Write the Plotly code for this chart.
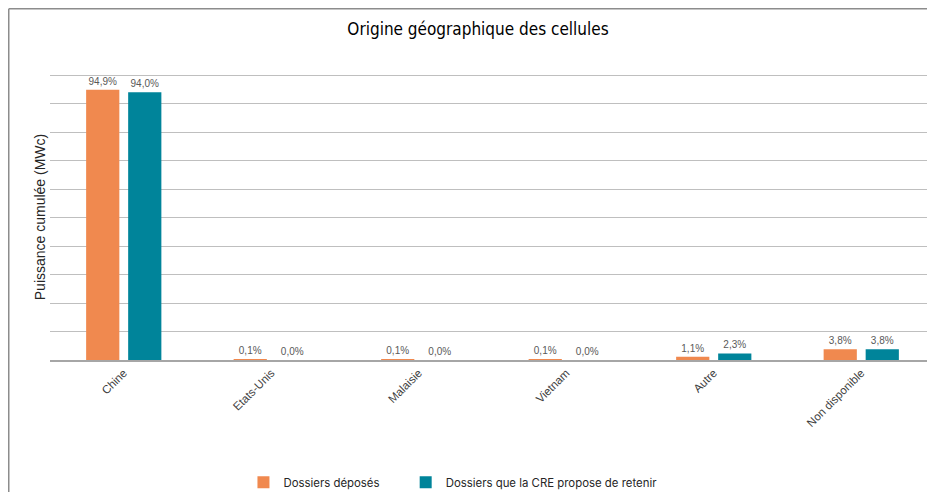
import plotly.graph_objects as go

categories = ["Chine", "Etats-Unis", "Malaisie", "Vietnam", "Autre", "Non disponible"]
deposes = [94.9, 0.1, 0.1, 0.1, 1.1, 3.8]
retenus = [94.0, 0.0, 0.0, 0.0, 2.3, 3.8]

series = [
    ("Dossiers déposés", deposes, "#F0894F", "legend", 0.254),
    ("Dossiers que la CRE propose de retenir", retenus, "#00849A", "legend2", 0.429),
]


def fmt(v):
    return f"{v:.1f}%".replace(".", ",")


fig = go.Figure()
for name, vals, color, leg, _ in series:
    fig.add_trace(go.Bar(
        x=categories,
        y=vals,
        name=name,
        legend=leg,
        marker=dict(color=color, line=dict(width=0)),
        text=[fmt(v) for v in vals],
        textposition="outside",
        cliponaxis=False,
        textfont=dict(family="Liberation Sans, Arial", size=10, color="#595959"),
    ))

legend_style = dict(
    orientation="h",
    xref="container",
    yref="container",
    xanchor="left",
    yanchor="middle",
    y=0.02,
    itemwidth=30,
    bgcolor="rgba(0,0,0,0)",
    font=dict(family="Inter, Liberation Sans", size=11.4, color="#262626"),
)

# la page ajoute une marge de 8 px : la figure fait 927 x 484
fig.update_layout(
    width=927,
    height=484,
    margin=dict(l=42, r=0, t=66, b=132),
    paper_bgcolor="white",
    plot_bgcolor="white",
    barmode="group",
    bargap=0.43,
    bargroupgap=0.21,
    title=dict(
        text="Origine géographique des cellules",
        x=0.507,
        xanchor="center",
        y=0.957,
        yanchor="middle",
        font=dict(family="DejaVu Sans Condensed, Roboto", size=17, color="#000000"),
    ),
    xaxis=dict(
        automargin=False,
        tickangle=-45,
        tickfont=dict(family="Liberation Sans, Arial", size=11.5, color="#404040"),
        showline=True,
        linecolor="#a6a6a6",
        linewidth=1.5,
        ticks="",
    ),
    yaxis=dict(
        automargin=False,
        range=[0, 100.4],
        dtick=10,
        showticklabels=False,
        gridcolor="#bfbfbf",
        gridwidth=1.2,
        zeroline=False,
        title=dict(
            text="Puissance cumulée (MWc)",
            font=dict(family="Liberation Sans, Arial", size=14, color="#262626"),
            standoff=0,
        ),
    ),
    legend=dict(legend_style, x=series[0][4]),
    legend2=dict(legend_style, x=series[1][4]),
    showlegend=True,
)

# cadre gris du graphique (haut et gauche)
fig.add_shape(type="line", xref="paper", yref="paper",
              x0=-0.0466, x1=1.0, y0=1.228, y1=1.228,
              line=dict(color="#8c8c8c", width=1.5))
fig.add_shape(type="line", xref="paper", yref="paper",
              x0=-0.0466, x1=-0.0466, y0=1.228, y1=-0.47,
              line=dict(color="#8c8c8c", width=1.5))

fig.write_html("out.html")
